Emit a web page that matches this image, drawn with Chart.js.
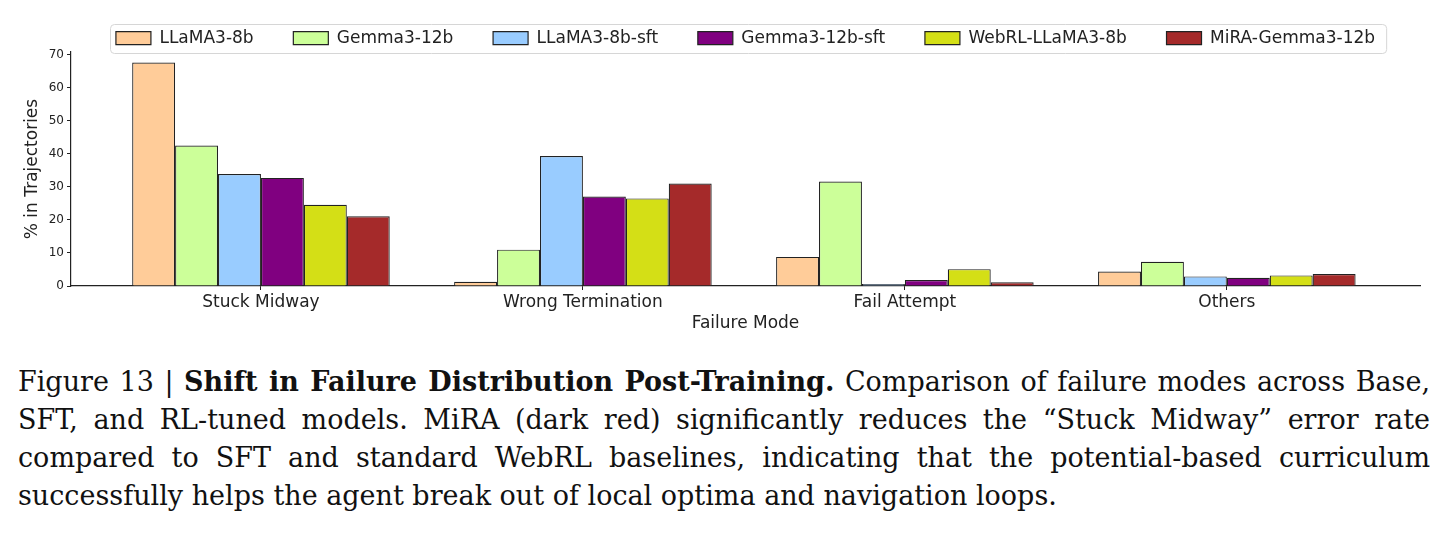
<!DOCTYPE html>
<html>
<head>
<meta charset="utf-8">
<script src="https://cdn.jsdelivr.net/npm/chart.js@4"></script>
<style>
  body { margin: 0; background: #fff; width: 1448px; height: 538px; overflow: hidden; }
  #wrap { position: absolute; left: 0; top: 0; width: 1448px; height: 345px; }
  #caption {
    position: absolute; left: 18px; top: 363px; width: 1412px;
    font-family: "DejaVu Serif", "Liberation Serif", serif; font-size: 27px;
    line-height: 38px; color: #111;
  }
  #caption .ln { text-align: justify; text-align-last: justify; white-space: nowrap; }
  #caption .ln.last { text-align-last: left; }
</style>
</head>
<body>
<div id="wrap"><canvas id="myChart"></canvas></div>
<div id="caption">
  <div class="ln">Figure 13 | <b>Shift in Failure Distribution Post-Training.</b> Comparison of failure modes across Base,</div>
  <div class="ln">SFT, and RL-tuned models. MiRA (dark red) significantly reduces the “Stuck Midway” error rate</div>
  <div class="ln">compared to SFT and standard WebRL baselines, indicating that the potential-based curriculum</div>
  <div class="ln last">successfully helps the agent break out of local optima and navigation loops.</div>
</div>
<script>
const categories = ['Stuck Midway', 'Wrong Termination', 'Fail Attempt', 'Others'];
const models = ['LLaMA3-8b', 'Gemma3-12b', 'LLaMA3-8b-sft', 'Gemma3-12b-sft', 'WebRL-LLaMA3-8b', 'MiRA-Gemma3-12b'];
const colors = ['#ffcc99', '#ccff99', '#99ccff', '#800080', '#d4df16', '#a52a2a'];

const llama = [67.6, 1.3, 8.8, 4.4];
const gemma = [42.5, 11.0, 31.6, 7.3];
const llamaSft = [33.9, 39.3, 0.6, 2.9];
const gemmaSft = [32.7, 27.1, 1.8, 2.5];
const webrl = [24.6, 26.5, 5.1, 3.2];
const mira = [21.1, 31.0, 1.1, 3.6];
const series = [llama, gemma, llamaSft, gemmaSft, webrl, mira];

const yTicks = [0, 10, 20, 30, 40, 50, 60, 70];

const font = 'DejaVu Sans';
const ink = '#222';

// legend sits above the axes, centred on them, and should not push them down much
const legendFit = {
  id: 'legendFit',
  afterInit(chart) {
    const lg = chart.legend;
    if (!lg) return;
    const fit = lg.fit.bind(lg);
    lg.fit = function () { fit(); this.height = 62; };
  },
  afterLayout(chart) {
    const lg = chart.legend;
    lg.left = chart.chartArea.left;
    lg.right = chart.chartArea.right;
    lg.width = lg.right - lg.left;
  }
};

// rounded frame around the legend, matplotlib style
const legendFrame = {
  id: 'legendFrame',
  afterDraw(chart) {
    const boxes = chart.legend.legendHitBoxes;
    if (!boxes || !boxes.length) return;
    const last = boxes[boxes.length - 1];
    const cy = boxes[0].top + boxes[0].height / 2;
    const l = boxes[0].left - 6;
    const r = last.left + last.width + 11;
    const t = cy - 14.5;
    const ctx = chart.ctx;
    ctx.save();
    ctx.strokeStyle = '#d6d6d6';
    ctx.lineWidth = 1;
    ctx.beginPath();
    ctx.roundRect(Math.round(l) + 0.5, Math.round(t) + 0.5, r - l, 29, 4);
    ctx.stroke();
    ctx.restore();
  }
};

new Chart(document.getElementById('myChart'), {
  type: 'bar',
  data: {
    datasets: models.map((m, k) => ({
      label: m,
      data: series[k].map((v, i) => ({x: i, y: v})),
      backgroundColor: colors[k],
      borderColor: ink,
      borderWidth: 1.2,
      categoryPercentage: 0.8,
      barPercentage: 1.0,
    })),
  },
  options: {
    responsive: true,
    maintainAspectRatio: false,
    animation: false,
    layout: {padding: {left: 0, right: 28, top: -10, bottom: 0}},
    plugins: {
      legend: {
        position: 'top',
        labels: {
          boxWidth: 35,
          boxHeight: 13,
          padding: 39.7,
          color: ink,
          font: {family: font, size: 17},
        },
      },
      tooltip: {enabled: false},
    },
    scales: {
      x: {
        type: 'linear',
        min: -0.59,
        max: 3.6,
        offset: false,
        afterBuildTicks: (scale) => { scale.ticks = categories.map((c, i) => ({value: i})); },
        afterFit: (scale) => { scale.height = 59; },
        ticks: {
          callback: (v) => categories[v],
          color: ink,
          font: {family: font, size: 17},
          padding: 2,
          maxRotation: 0,
        },
        grid: {display: true, drawOnChartArea: false, drawTicks: true, tickLength: 4, color: ink, offset: false},
        border: {display: true, color: ink, width: 1.2},
        title: {display: true, text: 'Failure Mode', color: ink, font: {family: font, size: 17}, padding: {top: 0, bottom: 11}},
      },
      y: {
        min: 0,
        max: 70.8,
        afterBuildTicks: (scale) => { scale.ticks = yTicks.map((v) => ({value: v})); },
        afterFit: (scale) => { scale.width = 71; },
        ticks: {color: ink, font: {family: font, size: 12}, padding: 3},
        grid: {display: true, drawOnChartArea: false, drawTicks: true, tickLength: 4, color: ink},
        border: {display: true, color: ink, width: 1.2},
        title: {display: true, text: '% in Trajectories', color: ink, font: {family: font, size: 17}, padding: {top: 22, bottom: 0}},
      },
    },
  },
  plugins: [legendFit, legendFrame],
});
</script>
</body>
</html>
